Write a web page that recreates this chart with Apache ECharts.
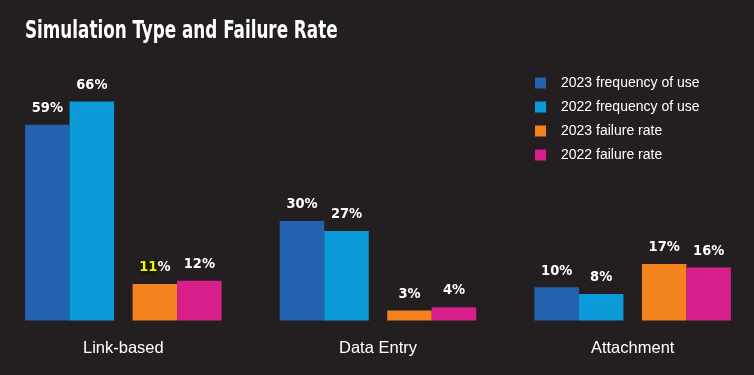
<!DOCTYPE html>
<html>
<head>
<meta charset="utf-8">
<script src="https://cdn.jsdelivr.net/npm/echarts@6/dist/echarts.min.js"></script>
<style>
html,body{margin:0;padding:0;background:#231f20;overflow:hidden;}
#chart{width:764px;height:375px;margin-left:-4px;}
</style>
</head>
<body>
<div id="chart"></div>
<script>
const titleText = 'Simulation Type and Failure Rate';
const categories = ['Link-based', 'Data Entry', 'Attachment'];
const seriesNames = ['2023 frequency of use', '2022 frequency of use', '2023 failure rate', '2022 failure rate'];
const freq2023 = [59, 30, 10];
const freq2022 = [66, 27, 8];
const fail2023 = [11, 3, 17];
const fail2022 = [12, 4, 16];
const colors = ['#2262ae', '#0a9bd8', '#f4821f', '#d81e8b'];
const highlighted = { series: 2, index: 0 }; // value label drawn in yellow

const condensed = '"DejaVu Sans Condensed", "Liberation Sans Narrow", "Arial Narrow", sans-serif';
const regular = '"Liberation Sans", Arial, Helvetica, sans-serif';

const chart = echarts.init(document.getElementById('chart'), null, { renderer: 'canvas' });

function barSeries(name, values, color, sIdx) {
  return {
    name: name,
    type: 'bar',
    barWidth: 44.5,
    barGap: 0,
    itemStyle: { color: color },
    label: {
      show: true,
      position: 'top',
      distance: 9,
      color: '#ffffff',
      fontFamily: condensed,
      fontWeight: 'bold',
      fontSize: 14.5,
      formatter: function (p) {
        if (sIdx === highlighted.series && p.dataIndex === highlighted.index) {
          return '{y|' + p.value + '}%';
        }
        return p.value + '%';
      },
      rich: {
        y: {
          color: '#f2f200',
          fontFamily: condensed,
          fontWeight: 'bold',
          fontSize: 14.5,
          backgroundColor: '#1c1a0e'
        }
      }
    },
    data: values
  };
}

const option = {
  backgroundColor: '#231f20',
  animation: false,
  graphic: [{
    type: 'text',
    x: 29,
    y: 20,
    scaleX: 0.778,
    style: {
      text: titleText,
      x: 0,
      y: 0,
      fill: '#ffffff',
      fontFamily: condensed,
      fontWeight: 'bold',
      fontSize: 24,
      verticalAlign: 'top'
    }
  }],
  legend: {
    data: seriesNames,
    orient: 'vertical',
    left: 534,
    top: 71,
    itemWidth: 11,
    itemHeight: 11,
    itemGap: 10,
    icon: 'rect',
    textStyle: {
      color: '#ffffff',
      fontFamily: regular,
      fontSize: 14,
      lineHeight: 14,
      padding: [0, 0, 0, 10]
    }
  },
  grid: { left: 0, right: 0, top: 55, bottom: 54.5 },
  xAxis: {
    type: 'category',
    data: categories,
    axisLine: { show: false },
    axisTick: { show: false },
    axisLabel: {
      color: '#ffffff',
      fontFamily: regular,
      fontSize: 16.5,
      margin: 19
    }
  },
  yAxis: {
    type: 'value',
    min: 0,
    max: 80,
    show: false,
    splitLine: { show: false }
  },
  series: [
    barSeries(seriesNames[0], freq2023, colors[0], 0),
    barSeries(seriesNames[1], freq2022, colors[1], 1),
    {
      name: 'spacer',
      type: 'bar',
      barWidth: 18.5,
      barGap: 0,
      data: categories.map(function () { return '-'; })
    },
    barSeries(seriesNames[2], fail2023, colors[2], 2),
    barSeries(seriesNames[3], fail2022, colors[3], 3)
  ]
};

chart.setOption(option);
</script>
</body>
</html>
